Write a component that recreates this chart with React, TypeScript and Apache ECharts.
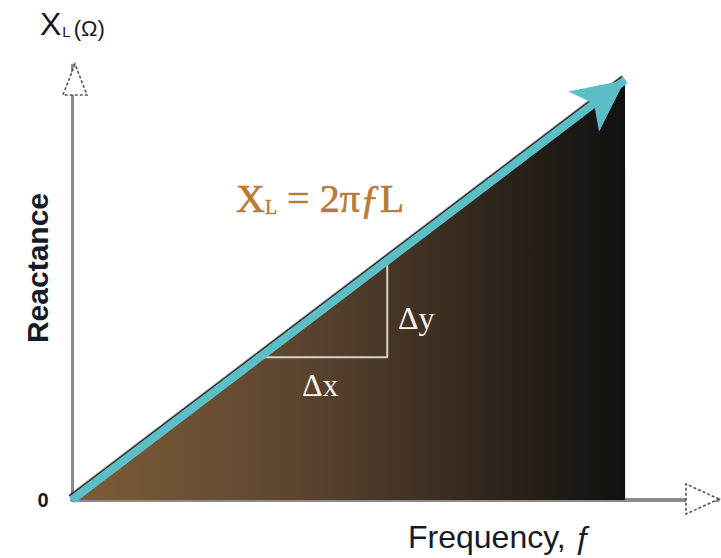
import React, { useEffect, useRef } from "react";
import * as echarts from "echarts";

// Inductive reactance grows linearly with frequency: X_L = 2πfL
const frequency = [0, 10];
const reactance = [0, 10];
// right-angle slope marker (Δx, Δy) sitting under the line
const slopeX = [3.4, 5.7, 5.7];
const slopeY = [3.4, 3.4, 5.7];
const xMax = 11.68;
const yMax = 10.36;

const areaLeft = "#7e5d38";
const areaMid = "#5c452f";
const areaDark = "#2f251c";
const areaRight = "#111010";
const arrowColor = "#5bbec7";
const axisGray = "#8c8c8c";
const formulaColor = "#c07a30";
const formulaEdge = "rgba(50,30,10,0.55)";

export default function App() {
  const ref = useRef<HTMLDivElement>(null);

  useEffect(() => {
    if (!ref.current) return;
    const chart = echarts.init(ref.current, null, { renderer: "svg" });

    const lineData = frequency.map((f, i) => [f, reactance[i]]);
    const slopeData = slopeX.map((x, i) => [x, slopeY[i]]);

    const arrowHead = (points: number[][]) => ({
      type: "polygon",
      z: 100,
      shape: { points },
      style: {
        fill: "#ffffff",
        stroke: "#555555",
        lineWidth: 1.6,
        lineDash: [3, 2],
      },
    });

    const serif = (size: number, extra: Record<string, unknown> = {}) => ({
      fontSize: size,
      fontFamily: "Liberation Serif",
      fill: formulaColor,
      stroke: formulaEdge,
      lineWidth: 0.7,
      ...extra,
    });

    chart.setOption({
      animation: false,
      backgroundColor: "#ffffff",
      grid: { left: 72, right: 3, top: 65, bottom: 58 },
      xAxis: {
        type: "value",
        min: 0,
        max: xMax,
        axisLine: { show: true, onZero: false, lineStyle: { color: axisGray, width: 4 } },
        axisTick: { show: false },
        axisLabel: { show: false },
        splitLine: { show: false },
      },
      yAxis: {
        type: "value",
        min: 0,
        max: yMax,
        axisLine: { show: true, onZero: false, lineStyle: { color: axisGray, width: 3 } },
        axisTick: { show: false },
        axisLabel: { show: false },
        splitLine: { show: false },
      },
      series: [
        {
          type: "line",
          name: "area",
          data: lineData,
          symbol: "none",
          z: 1,
          lineStyle: { width: 0 },
          areaStyle: {
            opacity: 1,
            color: new echarts.graphic.LinearGradient(0, 0, 1, 0, [
              { offset: 0, color: areaLeft },
              { offset: 0.41, color: areaMid },
              { offset: 0.76, color: areaDark },
              { offset: 1, color: areaRight },
            ]),
          },
        },
        {
          type: "line",
          name: "slope",
          data: slopeData,
          symbol: "none",
          z: 2,
          lineStyle: { color: "#d9d2ca", width: 2 },
        },
        {
          type: "line",
          name: "arrow",
          data: [],
          z: 5,
          markLine: {
            silent: true,
            symbol: ["none", "arrow"],
            symbolSize: [38, 52],
            label: { show: false },
            lineStyle: {
              type: "solid",
              color: arrowColor,
              width: 8,
              opacity: 1,
              shadowColor: "rgba(0,0,0,0.85)",
              shadowOffsetX: -1,
              shadowOffsetY: -1.5,
              shadowBlur: 0,
            },
            itemStyle: {
              color: arrowColor,
              shadowColor: "rgba(0,0,0,0.85)",
              shadowOffsetX: -1,
              shadowOffsetY: -1.5,
            },
            data: [[{ coord: lineData[0] }, { coord: lineData[1] }]],
          },
        },
      ],
      graphic: [
        arrowHead([[75, 64], [63, 95], [87, 95]]),
        arrowHead([[719, 499], [686, 484], [686, 514]]),
        {
          type: "text",
          z: 100,
          left: 40,
          top: 8,
          style: {
            text: "{a|X}{b|L}{c|(Ω)}",
            rich: {
              a: { fontSize: 32, fontFamily: "Liberation Sans", fill: "#161a2a" },
              b: { fontSize: 15, fontFamily: "Liberation Sans", fill: "#161a2a", padding: [14, 3, 0, 1] },
              c: { fontSize: 22, fontFamily: "Liberation Sans", fill: "#161a2a", padding: [8, 0, 0, 0] },
            },
          },
        },
        {
          type: "text",
          z: 100,
          x: 37,
          y: 268,
          rotation: Math.PI / 2,
          style: {
            text: "Reactance",
            fontSize: 30,
            fontWeight: "bold",
            fontFamily: "Liberation Sans",
            fill: "#161a2a",
            align: "center",
            verticalAlign: "middle",
          },
        },
        {
          type: "text",
          z: 100,
          x: 43,
          y: 500,
          style: {
            text: "0",
            fontSize: 20,
            fontWeight: "bold",
            fontFamily: "Liberation Sans",
            fill: "#161a2a",
            align: "center",
            verticalAlign: "middle",
          },
        },
        {
          type: "text",
          z: 100,
          x: 408,
          y: 537,
          style: {
            text: "Frequency, ƒ",
            fontSize: 32,
            fontFamily: "Liberation Sans",
            fill: "#161a2a",
            verticalAlign: "middle",
          },
        },
        {
          type: "text",
          z: 100,
          x: 236,
          y: 198,
          style: {
            text: "{x|X}{s|L}{x| = 2π}{f|ƒ}{x|L}",
            verticalAlign: "middle",
            rich: {
              x: serif(40),
              s: serif(20, { padding: [18, 0, 0, 0], lineWidth: 0.5 }),
              f: serif(40, { fontStyle: "italic" }),
            },
          },
        },
        {
          type: "text",
          z: 100,
          x: 398,
          y: 318,
          style: {
            text: "Δy",
            fontSize: 32,
            fontFamily: "Liberation Serif",
            fill: "#f6f2ec",
            verticalAlign: "middle",
          },
        },
        {
          type: "text",
          z: 100,
          x: 302,
          y: 385,
          style: {
            text: "Δx",
            fontSize: 32,
            fontFamily: "Liberation Serif",
            fill: "#f6f2ec",
            verticalAlign: "middle",
          },
        },
      ],
    });

    return () => chart.dispose();
  }, []);

  return (
    <div
      ref={ref}
      style={{ position: "fixed", left: 0, top: 0, width: 721, height: 558 }}
    />
  );
}
